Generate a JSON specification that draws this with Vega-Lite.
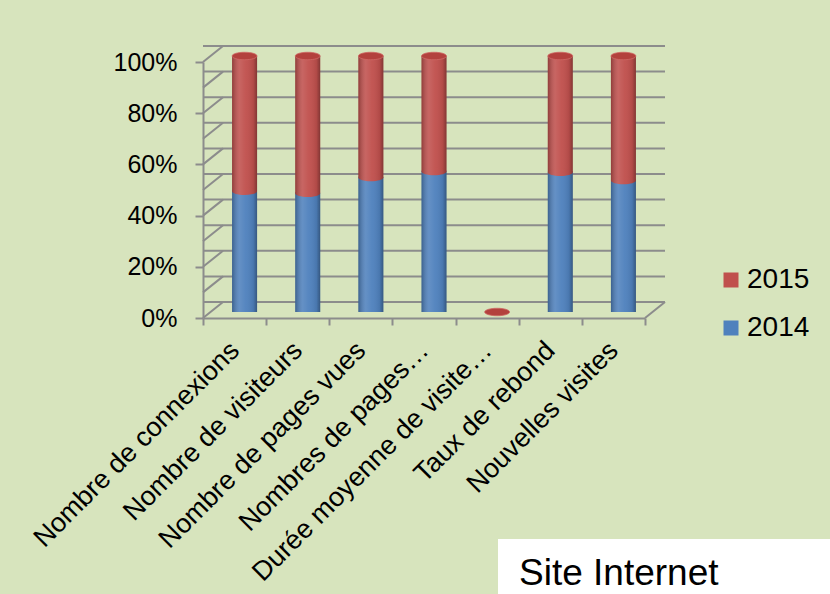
{
  "$schema": "https://vega.github.io/schema/vega-lite/v6.json",
  "width": 442,
  "height": 256,
  "autosize": {"type": "none"},
  "padding": {"left": 203, "top": 62, "right": 185, "bottom": 276},
  "background": "#d7e4bd",
  "config": {
    "view": {"stroke": null},
    "font": "Liberation Sans",
    "axisY": {"labelOverlap": false, "labelSeparation": -10, "tickCount": 10},
    "axisX": {"labelOverlap": false}
  },
  "datasets": {
    "main": [
      {"cat": "Nombre de connexions", "annee": "2014", "value": 47.2},
      {"cat": "Nombre de connexions", "annee": "2015", "value": 52.8},
      {"cat": "Nombre de visiteurs", "annee": "2014", "value": 46.4},
      {"cat": "Nombre de visiteurs", "annee": "2015", "value": 53.6},
      {"cat": "Nombre de pages vues", "annee": "2014", "value": 52.5},
      {"cat": "Nombre de pages vues", "annee": "2015", "value": 47.5},
      {"cat": "Nombres de pages…", "annee": "2014", "value": 54.9},
      {"cat": "Nombres de pages…", "annee": "2015", "value": 45.1},
      {"cat": "Durée moyenne de visite…", "annee": "2014", "value": 0},
      {"cat": "Durée moyenne de visite…", "annee": "2015", "value": 0},
      {"cat": "Taux de rebond", "annee": "2014", "value": 54.6},
      {"cat": "Taux de rebond", "annee": "2015", "value": 45.4},
      {"cat": "Nouvelles visites", "annee": "2014", "value": 51.4},
      {"cat": "Nouvelles visites", "annee": "2015", "value": 48.6}
    ],
    "grid": [
      {"v": 0}, {"v": 10}, {"v": 20}, {"v": 30}, {"v": 40}, {"v": 50},
      {"v": 60}, {"v": 70}, {"v": 80}, {"v": 90}, {"v": 100}
    ]
  },
  "layer": [
    {
      "data": {"name": "grid"},
      "mark": {"type": "rule", "color": "#8c8c8c", "strokeWidth": 2, "xOffset": 20, "x2Offset": 20, "yOffset": -16, "y2Offset": -16},
      "encoding": {
        "y": {
          "field": "v", "type": "quantitative", "title": null,
          "scale": {"domain": [0, 100], "nice": false, "zero": true}
        },
        "strokeDash": {
          "datum": "Site Internet", "type": "nominal",
          "scale": {"range": [[1, 0]]},
          "legend": {
            "orient": "none", "legendX": 295, "legendY": 477,
            "title": "Site Internet", "titleOrient": "left", "titleAngle": 0,
            "titleFont": "Liberation Sans", "titleFontSize": 37, "titleFontWeight": "normal",
            "titleColor": "black", "titleBaseline": "line-top", "titleLineHeight": 17,
            "titlePadding": 5, "titleLimit": 400,
            "fillColor": "white", "padding": 21,
            "labelExpr": "''", "labelOffset": 0,
            "symbolOpacity": 0, "symbolOffset": 90, "symbolSize": 100
          }
        }
      }
    },
    {
      "data": {"name": "grid"},
      "mark": {"type": "rule", "color": "#8c8c8c", "strokeWidth": 2, "xOffset": -31.57, "x2Offset": -11.57, "y2Offset": -16},
      "encoding": {
        "x": {"datum": "Nombre de connexions", "type": "nominal"},
        "x2": {"datum": "Nombre de connexions"},
        "y": {"field": "v", "type": "quantitative", "title": null},
        "y2": {"field": "v"}
      }
    },
    {
      "data": {"name": "grid"},
      "transform": [{"filter": "datum.v == 0"}],
      "mark": {"type": "rule", "color": "#8c8c8c", "strokeWidth": 2, "xOffset": 31.57, "x2Offset": 51.57, "y2Offset": -16},
      "encoding": {
        "x": {"datum": "Nouvelles visites", "type": "nominal"},
        "x2": {"datum": "Nouvelles visites"},
        "y": {"field": "v", "type": "quantitative", "title": null},
        "y2": {"field": "v"}
      }
    },
    {
      "data": {"name": "main"},
      "transform": [{"filter": "datum.annee == '2014' && datum.value > 0"}],
      "mark": {"type": "point", "shape": "M-1,0 A1,0.3 0 1,0 1,0 A1,0.3 0 1,0 -1,0 Z", "size": 625, "filled": true, "opacity": 1, "color": "#4576b2", "strokeWidth": 0, "xOffset": 10, "yOffset": -6},
      "encoding": {
        "x": {"field": "cat", "type": "nominal", "title": null},
        "y": {"field": "value", "type": "quantitative", "title": null, "aggregate": "min"}
      }
    },
    {
      "data": {"name": "main"},
      "mark": {"type": "bar", "width": 25, "xOffset": 10, "x2Offset": 10, "yOffset": -6, "y2Offset": -6},
      "encoding": {
        "x": {
          "field": "cat", "type": "nominal", "title": null,
          "scale": {
            "domain": ["Nombre de connexions", "Nombre de visiteurs", "Nombre de pages vues", "Nombres de pages…", "Durée moyenne de visite…", "Taux de rebond", "Nouvelles visites"],
            "paddingInner": 0, "paddingOuter": 0
          },
          "axis": {
            "grid": false, "tickBand": "extent",
            "domainColor": "#8c8c8c", "domainWidth": 2,
            "tickColor": "#8c8c8c", "tickWidth": 2, "tickSize": 7,
            "labelAngle": -45, "labelAlign": "right", "labelBaseline": "middle",
            "labelFont": "Liberation Sans", "labelFontSize": 27, "labelColor": "black",
            "labelPadding": 21,
            "labelLimit": 400, "labelOverlap": false
          }
        },
        "y": {
          "field": "value", "type": "quantitative", "stack": "zero", "title": null,
          "axis": {
            "values": [0, 10, 20, 30, 40, 50, 60, 70, 80, 90, 100],
            "tickCount": 10,
            "labelExpr": "datum.value + '%'",
            "grid": false,
            "domainColor": "#8c8c8c", "domainWidth": 2,
            "tickColor": "#8c8c8c", "tickWidth": 2, "tickSize": 8,
            "labelFont": "Liberation Sans", "labelFontSize": 25, "labelColor": "black",
            "labelPadding": 18, "labelOverlap": false, "labelSeparation": -10
          }
        },
        "color": {
          "field": "annee", "type": "nominal",
          "scale": {"domain": ["2015", "2014"], "range": ["#c0504d", "#4f81bd"]},
          "legend": {
            "orient": "none", "legendX": 514, "legendY": 204, "title": null,
            "symbolType": "square", "symbolSize": 225, "symbolStrokeWidth": 0,
            "labelFont": "Liberation Sans", "labelFontSize": 28, "labelColor": "black",
            "labelOffset": 2, "rowPadding": 20, "padding": 0
          }
        },
        "order": {"field": "annee", "sort": "ascending"}
      }
    },
    {
      "data": {"name": "main"},
      "transform": [{"filter": "datum.annee == '2014' && datum.value > 0"}],
      "mark": {"type": "point", "shape": "M-1,0 A1,0.3 0 1,0 1,0 A1,0.3 0 1,0 -1,0 Z", "size": 625, "filled": true, "opacity": 1, "color": "#c0504d", "strokeWidth": 0, "xOffset": 10, "yOffset": -6},
      "encoding": {
        "x": {"field": "cat", "type": "nominal", "title": null},
        "y": {"field": "value", "type": "quantitative", "title": null}
      }
    },
    {
      "data": {"name": "main"},
      "mark": {
        "type": "bar", "width": 25, "xOffset": 10, "x2Offset": 10, "yOffset": -6, "y2Offset": -6,
        "fill": {
          "gradient": "linear", "x1": 0, "y1": 0, "x2": 1, "y2": 0,
          "stops": [
            {"offset": 0, "color": "rgba(0,0,0,0.25)"},
            {"offset": 0.3, "color": "rgba(255,255,255,0.12)"},
            {"offset": 0.55, "color": "rgba(255,255,255,0.04)"},
            {"offset": 0.85, "color": "rgba(0,0,0,0.08)"},
            {"offset": 1, "color": "rgba(0,0,0,0.32)"}
          ]
        }
      },
      "encoding": {
        "x": {"field": "cat", "type": "nominal", "title": null},
        "y": {"field": "value", "type": "quantitative", "stack": "zero", "title": null},
        "detail": {"field": "annee"},
        "order": {"field": "annee", "sort": "ascending"}
      }
    },
    {
      "data": {"name": "main"},
      "transform": [{"aggregate": [{"op": "sum", "field": "value", "as": "total"}], "groupby": ["cat"]}],
      "mark": {"type": "point", "shape": "M-1,0 A1,0.3 0 1,0 1,0 A1,0.3 0 1,0 -1,0 Z", "size": 625, "filled": true, "opacity": 1, "color": "#b3413d", "stroke": "#cf6a66", "strokeWidth": 0.8, "xOffset": 10, "yOffset": -6},
      "encoding": {
        "x": {"field": "cat", "type": "nominal", "title": null},
        "y": {"field": "total", "type": "quantitative", "title": null}
      }
    }
  ]
}
